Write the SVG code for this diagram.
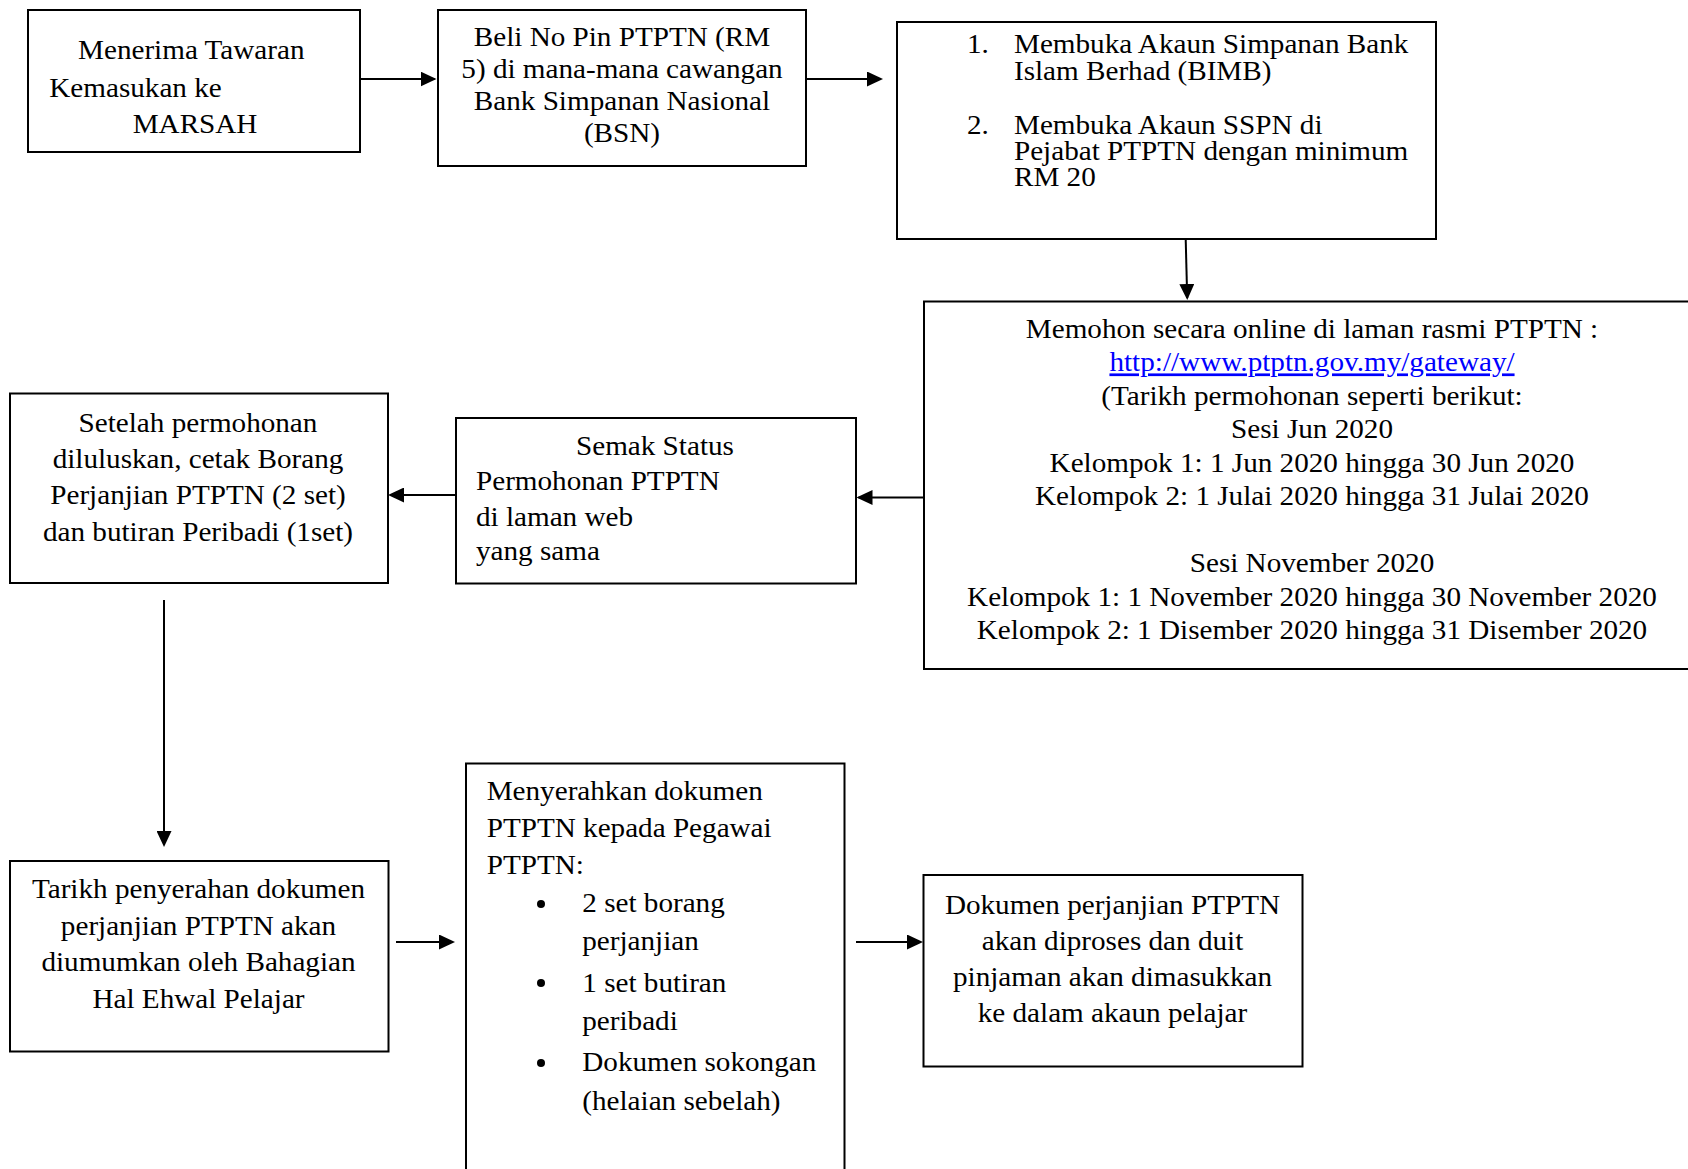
<svg xmlns="http://www.w3.org/2000/svg" width="1688" height="1169" viewBox="0 0 1688 1169">
<style>
.box{fill:#fff;stroke:#000;stroke-width:2}
.t{font-family:"Liberation Serif","Times New Roman",serif;font-size:27px;fill:#000}
.c{text-anchor:middle}
.link{fill:#0000ff;text-decoration:underline}
.conn{stroke:#000;stroke-width:2;fill:none}
</style>
<defs>
<marker id="ah" markerWidth="16" markerHeight="15" refX="14" refY="7.5" orient="auto" markerUnits="userSpaceOnUse">
<path d="M0,0 L16,7.5 L0,15 Z" fill="#000"/>
</marker>
</defs>
<rect width="1688" height="1169" fill="#fff"/>

<g id="n1">
<rect class="box" x="28" y="10" width="332" height="142"/>
<g transform="matrix(1.08,0,0,1,-3.944,0)">
<text class="t" x="75.9" y="59">Menerima Tawaran</text>
<text class="t" x="49.3" y="97">Kemasukan ke</text>
<text class="t" x="126.5" y="133">MARSAH</text>
</g>
</g>

<g id="n2">
<rect class="box" x="438" y="10" width="368" height="156"/>
<g transform="matrix(1.08,0,0,1,-49.76,0)" class="t c">
<text x="622" y="46">Beli No Pin PTPTN (RM</text>
<text x="622" y="78">5) di mana-mana cawangan</text>
<text x="622" y="110">Bank Simpanan Nasional</text>
<text x="622" y="142">(BSN)</text>
</g>
</g>

<g id="n3">
<rect class="box" x="897" y="22" width="539" height="217"/>
<g transform="matrix(1.08,0,0,1,-77.36,0)" class="t">
<text x="967" y="53">1.</text>
<text x="1010.5" y="53">Membuka Akaun Simpanan Bank</text>
<text x="1010.5" y="80">Islam Berhad (BIMB)</text>
<text x="967" y="134">2.</text>
<text x="1010.5" y="134">Membuka Akaun SSPN di</text>
<text x="1010.5" y="160">Pejabat PTPTN dengan minimum</text>
<text x="1010.5" y="186">RM 20</text>
</g>
</g>

<g id="n4">
<rect class="box" x="924" y="301.5" width="800" height="367.5"/>
<g transform="matrix(1.08,0,0,1,-104.96,0)" class="t c">
<text x="1312" y="338">Memohon secara online di laman rasmi PTPTN :</text>
<text x="1312" y="371.5" class="link">http://www.ptptn.gov.my/gateway/</text>
<text x="1312" y="405">(Tarikh permohonan seperti berikut:</text>
<text x="1312" y="438.5">Sesi Jun 2020</text>
<text x="1312" y="472">Kelompok 1: 1 Jun 2020 hingga 30 Jun 2020</text>
<text x="1312" y="505">Kelompok 2: 1 Julai 2020 hingga 31 Julai 2020</text>
<text x="1312" y="572.5">Sesi November 2020</text>
<text x="1312" y="606">Kelompok 1: 1 November 2020 hingga 30 November 2020</text>
<text x="1312" y="639">Kelompok 2: 1 Disember 2020 hingga 31 Disember 2020</text>
</g>
</g>

<g id="n5">
<rect class="box" x="456" y="418" width="400" height="165.5"/>
<g transform="matrix(1.08,0,0,1,-38.08,0)" class="t">
<text x="641.7" y="455" class="c">Semak Status</text>
<text x="476" y="490.5">Permohonan PTPTN</text>
<text x="476" y="526">di laman web</text>
<text x="476" y="560">yang sama</text>
</g>
</g>

<g id="n6">
<rect class="box" x="10" y="393.5" width="378" height="189.5"/>
<g transform="matrix(1.08,0,0,1,-15.84,0)" class="t c">
<text x="198" y="432">Setelah permohonan</text>
<text x="198" y="468">diluluskan, cetak Borang</text>
<text x="198" y="504">Perjanjian PTPTN (2 set)</text>
<text x="198" y="541">dan butiran Peribadi (1set)</text>
</g>
</g>

<g id="n7">
<rect class="box" x="10" y="861" width="378.5" height="190.5"/>
<g transform="matrix(1.08,0,0,1,-15.88,0)" class="t c">
<text x="198.5" y="898.5">Tarikh penyerahan dokumen</text>
<text x="198.5" y="935">perjanjian PTPTN akan</text>
<text x="198.5" y="971.5">diumumkan oleh Bahagian</text>
<text x="198.5" y="1008">Hal Ehwal Pelajar</text>
</g>
</g>

<g id="n8">
<rect class="box" x="466" y="763.5" width="378.5" height="420"/>
<g transform="matrix(1.08,0,0,1,-38.94,0)" class="t">
<text x="486.7" y="800">Menyerahkan dokumen</text>
<text x="486.7" y="837">PTPTN kepada Pegawai</text>
<text x="486.7" y="874">PTPTN:</text>
<text x="575.2" y="912">2 set borang</text>
<text x="575.2" y="950">perjanjian</text>
<text x="575.2" y="992">1 set butiran</text>
<text x="575.2" y="1030">peribadi</text>
<text x="575.2" y="1071.5">Dokumen sokongan</text>
<text x="575.2" y="1110">(helaian sebelah)</text>
</g>
<circle cx="541" cy="904" r="4"/>
<circle cx="541" cy="983" r="4"/>
<circle cx="541" cy="1063" r="4"/>
</g>

<g id="n9">
<rect class="box" x="923.5" y="875" width="379" height="191.5"/>
<g transform="matrix(1.08,0,0,1,-89,0)" class="t c">
<text x="1112.5" y="914">Dokumen perjanjian PTPTN</text>
<text x="1112.5" y="950">akan diproses dan duit</text>
<text x="1112.5" y="986">pinjaman akan dimasukkan</text>
<text x="1112.5" y="1022">ke dalam akaun pelajar</text>
</g>
</g>

<g id="connectors">
<line class="conn" x1="360" y1="79" x2="434.5" y2="79" marker-end="url(#ah)"/>
<line class="conn" x1="806" y1="79" x2="881" y2="79" marker-end="url(#ah)"/>
<line class="conn" x1="1185.7" y1="239" x2="1187.2" y2="298" marker-end="url(#ah)"/>
<line class="conn" x1="924" y1="497.5" x2="858.5" y2="497.5" marker-end="url(#ah)"/>
<line class="conn" x1="456" y1="495" x2="390" y2="495" marker-end="url(#ah)"/>
<line class="conn" x1="164" y1="600" x2="164" y2="845" marker-end="url(#ah)"/>
<line class="conn" x1="396" y1="942" x2="453" y2="942" marker-end="url(#ah)"/>
<line class="conn" x1="856" y1="942" x2="921" y2="942" marker-end="url(#ah)"/>
</g>
</svg>
